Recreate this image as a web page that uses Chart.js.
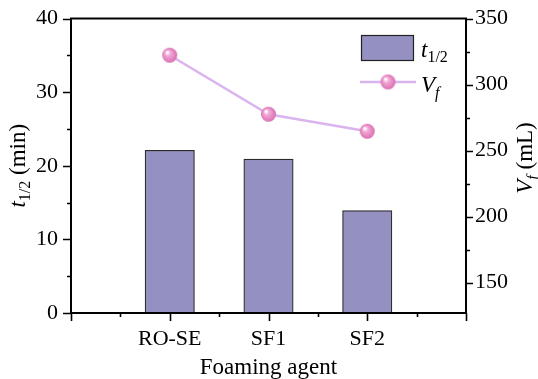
<!DOCTYPE html>
<html>
<head>
<meta charset="utf-8">
<script src="https://cdn.jsdelivr.net/npm/chart.js@4/dist/chart.umd.min.js"></script>
<style>
  html, body { margin: 0; padding: 0; background: #fff; }
  #wrap { width: 538px; height: 379px; }
</style>
</head>
<body>
<div id="wrap"><canvas id="chart" width="538" height="379"></canvas></div>
<script>
// foaming agents and where they sit on the x axis
const categories = ['RO-SE', 'SF1', 'SF2']
const categoryPos = [1, 2, 3]

// half-life of the foam (min) -> bars, left axis
const halfLife = [22.1, 20.9, 13.9]
// foam volume (mL) -> line, right axis
const foamVolume = [322.2, 277.5, 264.6]

// axis ranges
const xRange = [0, 4]
const leftRange = [0, 40]
const rightRange = [127, 350]

const FONT = 'Liberation Serif, Times New Roman, serif'
const BAR_COLOR = '#9490c1'
const LINE_COLOR = '#dab4ee'

// little shaded ball used as the point marker
function makeSphere(r) {
  const c = document.createElement('canvas')
  c.width = c.height = r * 2 + 2
  const g = c.getContext('2d')
  const cx = r + 1, cy = r + 1
  const grad = g.createRadialGradient(cx - r * 0.35, cy - r * 0.4, r * 0.1, cx, cy, r)
  grad.addColorStop(0, '#ffffff')
  grad.addColorStop(0.3, '#f2a9d6')
  grad.addColorStop(0.75, '#e583bf')
  grad.addColorStop(1, '#d46fae')
  g.fillStyle = grad
  g.beginPath()
  g.arc(cx, cy, r, 0, Math.PI * 2)
  g.fill()
  return c
}
const sphere = makeSphere(7.5)

// draws text pieces in a row: [text, size, italic, dy]
function drawRich(ctx, parts, x, y, align) {
  let w = 0
  parts.forEach(p => {
    ctx.font = (p[2] ? 'italic ' : '') + p[1] + 'px ' + FONT
    p.w = ctx.measureText(p[0]).width
    w += p.w
  })
  let cx = align === 'center' ? x - w / 2 : x
  parts.forEach(p => {
    ctx.font = (p[2] ? 'italic ' : '') + p[1] + 'px ' + FONT
    ctx.fillText(p[0], cx, y + (p[3] || 0))
    cx += p.w
  })
}

const framePlugin = {
  id: 'frame',
  afterDraw(chart) {
    const ctx = chart.ctx
    const a = chart.chartArea
    const xs = chart.scales.x, yl = chart.scales.y, yr = chart.scales.yR
    ctx.save()
    ctx.strokeStyle = '#000'
    ctx.lineWidth = 2
    ctx.strokeRect(a.left, a.top, a.right - a.left, a.bottom - a.top)

    ctx.lineWidth = 1.6
    ctx.beginPath()
    xs.ticks.forEach(t => {
      const px = Math.round(xs.getPixelForValue(t.value)) + 0.5
      const len = Number.isInteger(t.value) ? 8 : 4
      ctx.moveTo(px, a.bottom)
      ctx.lineTo(px, a.bottom + len)
    })
    yl.ticks.forEach(t => {
      const py = Math.round(yl.getPixelForValue(t.value)) + 0.5
      const len = t.value % 10 === 0 ? 8 : 4
      ctx.moveTo(a.left, py)
      ctx.lineTo(a.left - len, py)
    })
    yr.ticks.forEach(t => {
      const py = Math.round(yr.getPixelForValue(t.value)) + 0.5
      const len = t.value % 50 === 0 ? 7 : 4
      ctx.moveTo(a.right, py)
      ctx.lineTo(a.right + len, py)
    })
    ctx.stroke()

    // legend
    ctx.fillStyle = BAR_COLOR
    ctx.fillRect(361, 35, 53, 26)
    ctx.strokeStyle = '#222'
    ctx.lineWidth = 1.2
    ctx.strokeRect(361.5, 35.5, 52, 25)
    ctx.fillStyle = '#000'
    ctx.textBaseline = 'alphabetic'
    drawRich(ctx, [['t', 23, true], ['1/2', 16, false, 5]], 421, 57, 'left')

    ctx.strokeStyle = LINE_COLOR
    ctx.lineWidth = 2.5
    ctx.beginPath()
    ctx.moveTo(360, 82)
    ctx.lineTo(416, 82)
    ctx.stroke()
    ctx.drawImage(sphere, 388 - sphere.width / 2, 82 - sphere.height / 2)
    drawRich(ctx, [['V', 23, true], ['f', 16, true, 6]], 421, 92, 'left')

    // left axis title
    ctx.save()
    ctx.translate(25, (a.top + a.bottom) / 2)
    ctx.rotate(-Math.PI / 2)
    drawRich(ctx, [['t', 23, true], ['1/2', 16, false, 5], [' (min)', 23, false]], 0, 0, 'center')
    ctx.restore()

    // right axis title
    ctx.save()
    ctx.translate(532, 158)
    ctx.rotate(-Math.PI / 2)
    drawRich(ctx, [['V', 23, true], ['f', 16, true, 6], [' (mL)', 23, false]], 0, 0, 'center')
    ctx.restore()

    ctx.restore()
  }
}

const tickFont = { family: FONT, size: 22 }
const sideFont = { family: FONT, size: 22, lineHeight: 0.5 }

new Chart(document.getElementById('chart'), {
  data: {
    datasets: [
      {
        type: 'line',
        label: 'Vf',
        data: categoryPos.map((x, i) => ({ x: x, y: foamVolume[i] })),
        yAxisID: 'yR',
        borderColor: LINE_COLOR,
        borderWidth: 2.5,
        pointStyle: sphere,
        pointRadius: 7.5,
        pointHoverRadius: 7.5,
        order: 0
      },
      {
        type: 'bar',
        label: 't1/2',
        data: categoryPos.map((x, i) => ({ x: x, y: halfLife[i] })),
        yAxisID: 'y',
        backgroundColor: BAR_COLOR,
        borderColor: '#2a2a2a',
        borderWidth: 1.2,
        borderSkipped: false,
        barPercentage: 1,
        categoryPercentage: 1,
        order: 1
      }
    ]
  },
  options: {
    responsive: false,
    animation: false,
    devicePixelRatio: 1,
    layout: { padding: { left: 0, right: 0, top: 18, bottom: 0 } },
    plugins: { legend: { display: false }, tooltip: { enabled: false } },
    scales: {
      x: {
        type: 'linear',
        offset: false,
        min: xRange[0],
        max: xRange[1],
        grid: { display: false, drawTicks: false, offset: false },
        border: { display: false },
        ticks: {
          stepSize: 0.5,
          autoSkip: false,
          maxRotation: 0,
          padding: 13,
          color: '#000',
          font: tickFont,
          callback: v => Number.isInteger(v) && categoryPos.includes(v) ? categories[categoryPos.indexOf(v)] : ''
        },
        title: { display: true, text: 'Foaming agent', color: '#000', font: { family: FONT, size: 23, lineHeight: 1 }, padding: { top: 0, bottom: 0 } },
        afterFit: s => { s.height = 66 }
      },
      y: {
        position: 'left',
        min: leftRange[0],
        max: leftRange[1],
        grid: { display: false, drawTicks: false },
        border: { display: false },
        ticks: { stepSize: 5, autoSkip: false, padding: 13, color: '#000', font: sideFont,
          callback: v => v % 10 === 0 ? v : '' },
        afterFit: s => { s.width = 71 }
      },
      yR: {
        position: 'right',
        min: rightRange[0],
        max: rightRange[1],
        grid: { display: false, drawTicks: false },
        border: { display: false },
        afterBuildTicks: s => { s.ticks = s.ticks.filter(t => t.value % 25 === 0) },
        ticks: { stepSize: 25, autoSkip: false, padding: 9, color: '#000', font: sideFont,
          callback: v => v % 50 === 0 ? v : '' },
        afterFit: s => { s.width = 72 }
      }
    }
  },
  plugins: [framePlugin]
})
</script>
</body>
</html>
